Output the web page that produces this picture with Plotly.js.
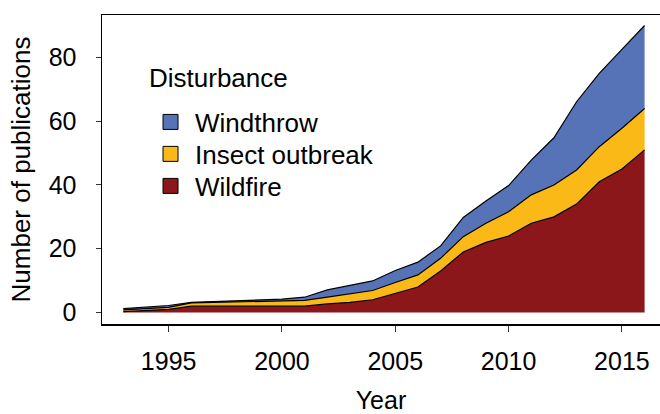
<!DOCTYPE html>
<html>
<head>
<meta charset="utf-8">
<script src="https://cdn.plot.ly/plotly-3.0.1.min.js"></script>
<style>html,body{margin:0;padding:0;background:#fff;}#chart{width:660px;height:414px;}</style>
</head>
<body>
<div id="chart"></div>
<script>
// Years
const years = [1993,1994,1995,1996,1997,1998,1999,2000,2001,2002,2003,2004,2005,2006,2007,2008,2009,2010,2011,2012,2013,2014,2015,2016];
// Number of publications by disturbance (stacked: wildfire bottom, insect middle, windthrow top)
const wildfire = [0.3,0.6,1.0,2.0,2.0,2.0,2.0,2.0,2.0,2.7,3.2,4.0,5.9,8.0,13.0,19.0,22.0,24.0,28.0,30.0,34.0,41.0,45.0,51.0];
const insect   = [0.5,0.6,0.6,1.0,1.2,1.4,1.6,1.8,1.8,2.1,2.7,2.9,3.5,3.8,4.0,4.8,6.0,7.6,8.9,10.0,10.7,11.0,12.8,13.0];
const windthrow= [0.4,0.5,0.6,0.2,0.2,0.2,0.3,0.4,1.0,2.3,2.6,3.0,3.8,4.0,3.9,6.0,7.0,8.2,10.9,14.8,21.4,23.0,24.7,26.0];
const seriesNames = ["Wildfire","Insect outbreak","Windthrow"];
const seriesColors = ["#8B171B","#FBB917","#5673B8"];
const legendOrder = ["Windthrow","Insect outbreak","Wildfire"];
const legendTitle = "Disturbance";
const xTicks = [1995,2000,2005,2010,2015];
const yTicks = [0,20,40,60,80];

const font = "Liberation Sans, Arial, Helvetica, sans-serif";
const vals = [wildfire, insect, windthrow];
const traces = [];
vals.forEach((v,i)=>{
  traces.push({
    x: years, y: v, type: "scatter", mode: "lines", stackgroup: "one",
    name: seriesNames[i], showlegend: false, hoverinfo: "skip",
    line: {color: "#000", width: 1.2},
    fillcolor: seriesColors[i]
  });
});
const legendIds = ["legend","legend2","legend3"];
const legendY = [0.6537, 0.5502, 0.4466];
legendOrder.forEach((n,k)=>{
  const i = seriesNames.indexOf(n);
  traces.push({
    x: [null], y: [null], type: "scatter", mode: "markers", name: n,
    legend: legendIds[k],
    marker: {symbol: "square", size: 15, color: seriesColors[i], line: {color: "#000", width: 1}}
  });
});

const layout = {
  width: 660, height: 414,
  margin: {l: 102, r: 0, t: 15, b: 90},
  paper_bgcolor: "#fff", plot_bgcolor: "#fff",
  font: {family: font, color: "#000", size: 24},
  showlegend: true,
  annotations: [{
    text: legendTitle, xref: "paper", yref: "paper", x: 0.0806, y: 0.796,
    xanchor: "left", yanchor: "middle", showarrow: false,
    font: {family: font, size: 26, color: "#000"}
  }],
  xaxis: {
    range: [1992.06, 2016.68], tickvals: xTicks, ticktext: xTicks.map(String),
    showgrid: false, zeroline: false, showline: true, mirror: true,
    linecolor: "#000", linewidth: 1.5,
    ticks: "outside", ticklen: 6, tickwidth: 1, tickcolor: "#333",
    tickfont: {family: font, size: 25, color: "#000"},
    ticklabelstandoff: 8,
    title: {text: "Year", font: {family: font, size: 25, color: "#000"}, standoff: 21}
  },
  yaxis: {
    range: [-3.6, 93.3], tickvals: yTicks, ticktext: yTicks.map(String),
    showgrid: false, zeroline: false, showline: true,
    linecolor: "#000", linewidth: 1.5,
    ticks: "outside", ticklen: 5, tickwidth: 1, tickcolor: "#333",
    tickfont: {family: font, size: 25, color: "#000"},
    ticklabelstandoff: 14,
    title: {text: "Number of publications", font: {family: font, size: 26, color: "#000"}, standoff: 10}
  }
};
legendIds.forEach((id,k)=>{
  layout[id] = {
    x: 0.0789, y: legendY[k], xanchor: "left", yanchor: "middle",
    bgcolor: "rgba(0,0,0,0)", itemwidth: 39,
    font: {family: font, size: 26, color: "#000"}
  };
});
Plotly.newPlot("chart", traces, layout, {displayModeBar: false, staticPlot: true});
</script>
</body>
</html>
